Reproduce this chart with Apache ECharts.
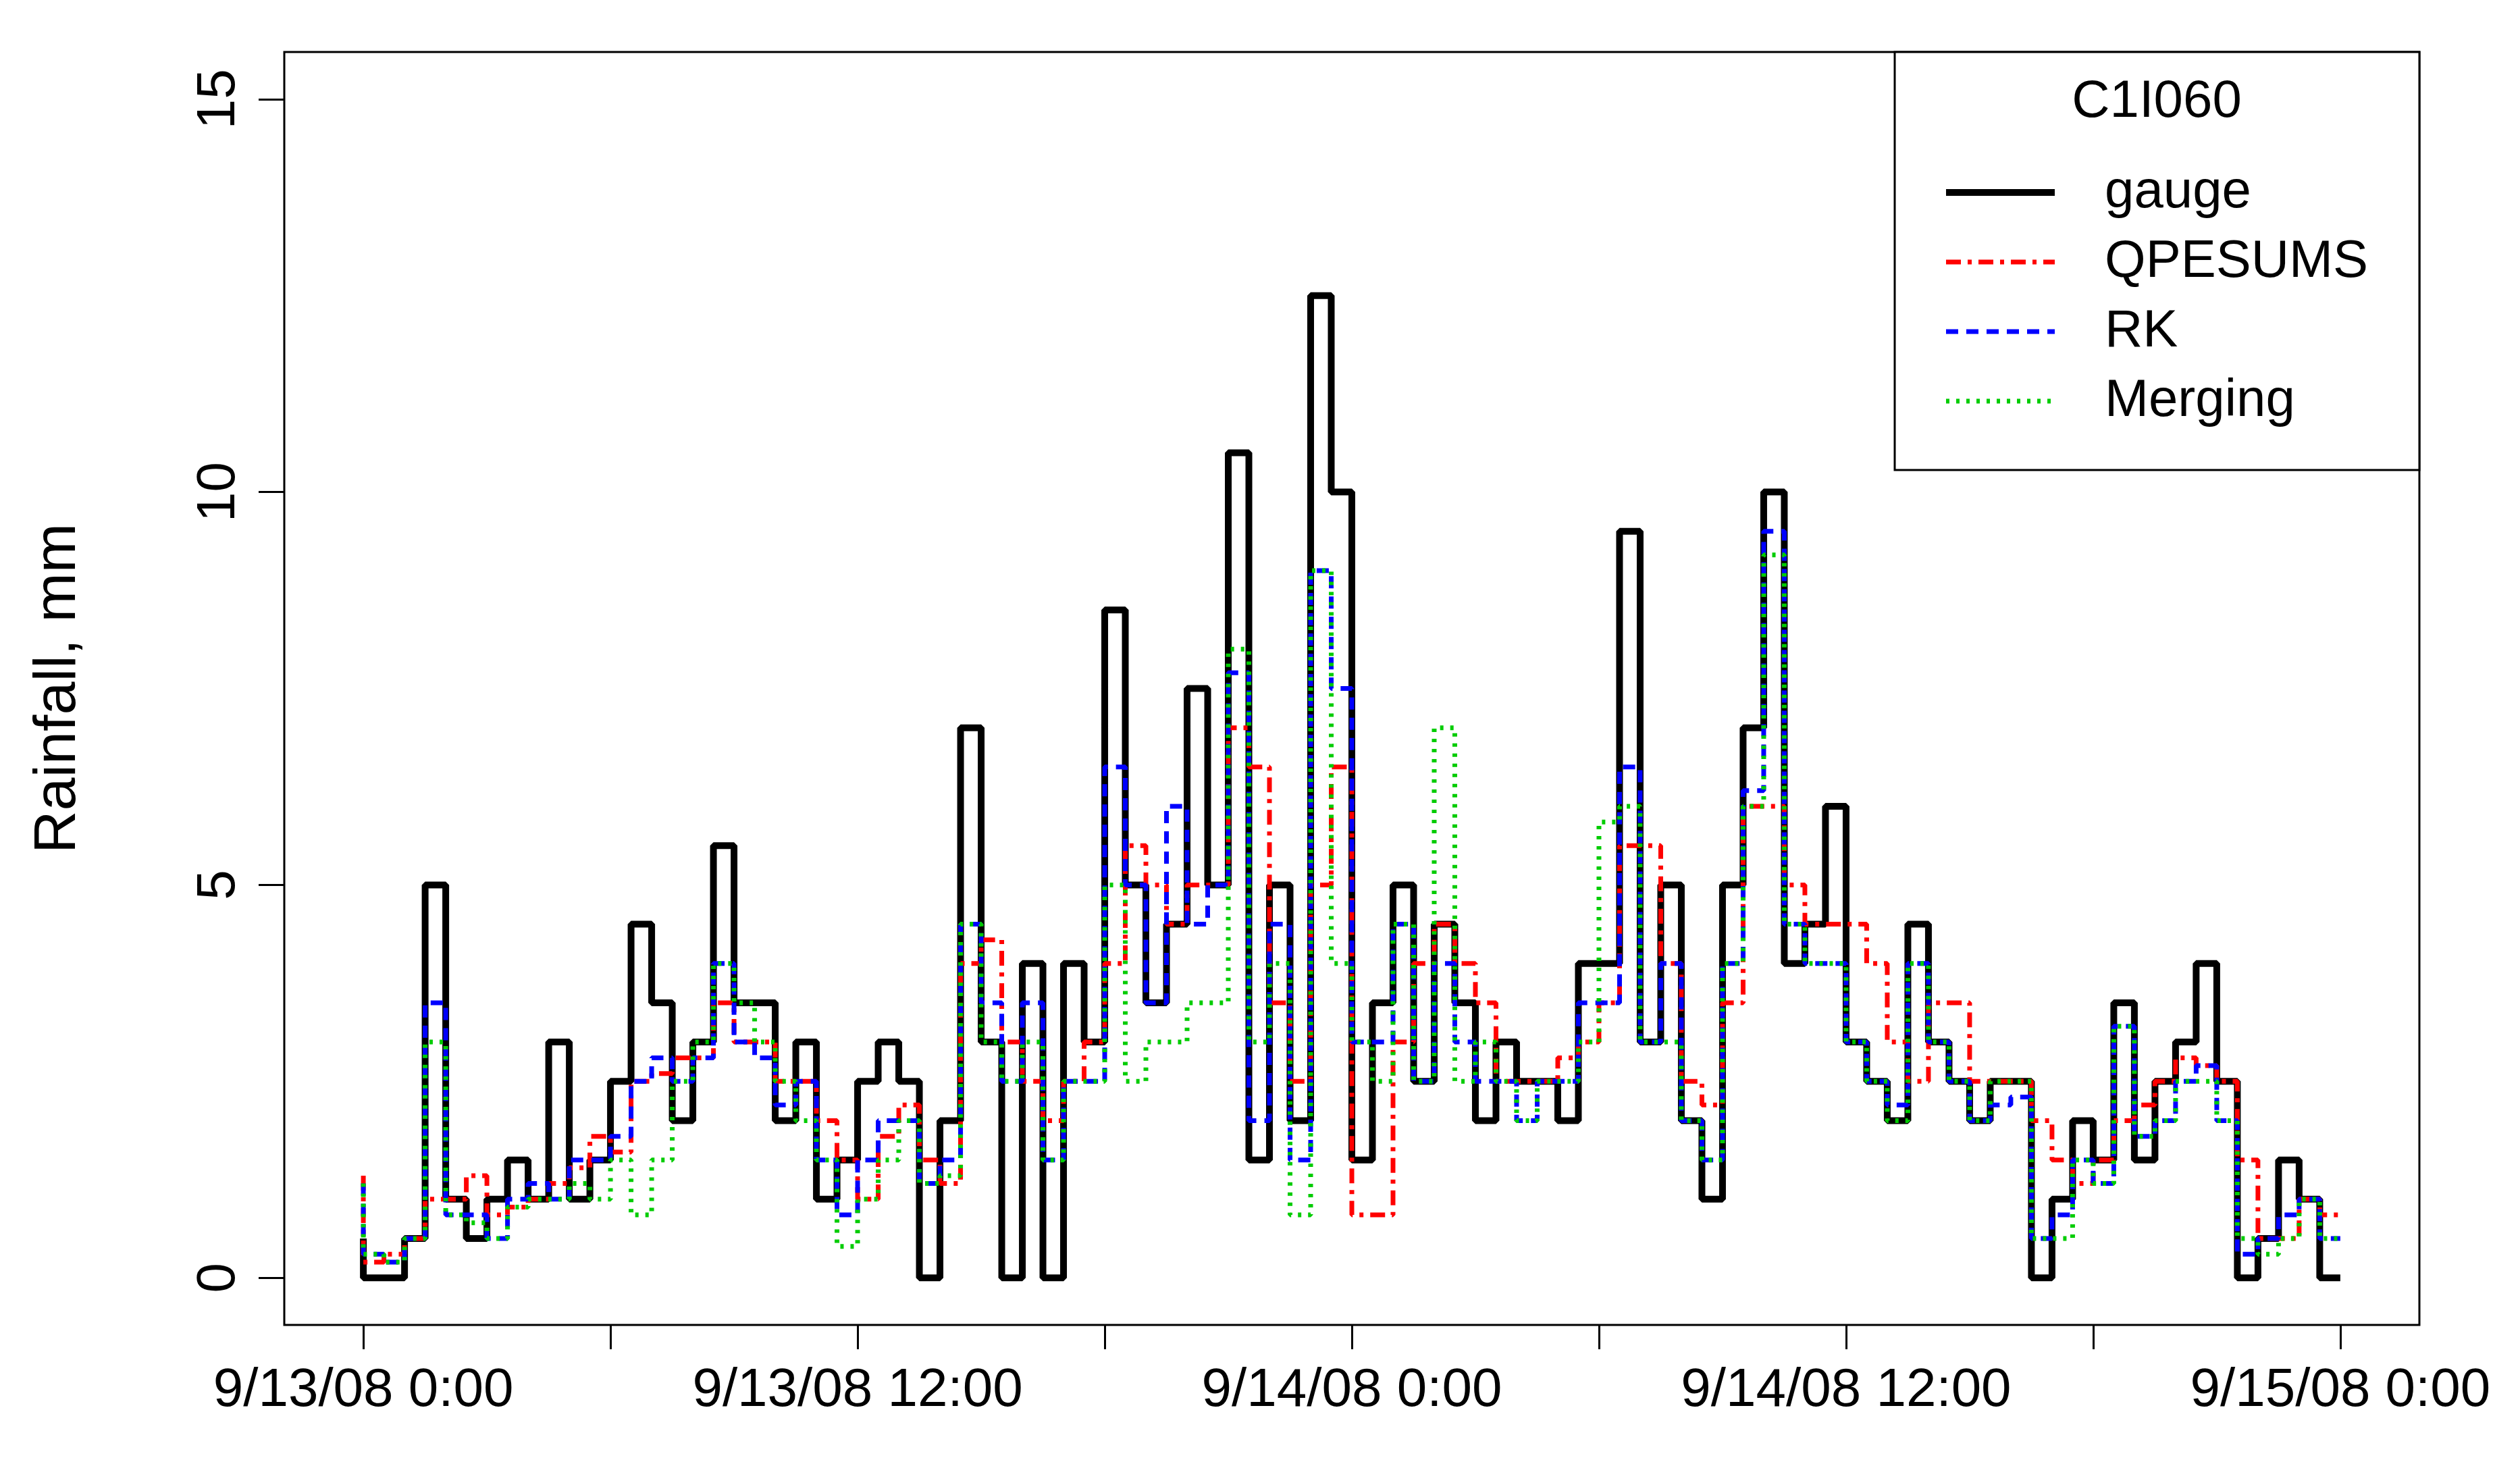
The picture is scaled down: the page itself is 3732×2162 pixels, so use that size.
<!DOCTYPE html>
<html><head><meta charset="utf-8">
<script src="https://cdn.jsdelivr.net/npm/echarts@6/dist/echarts.min.js"></script>
<style>html,body{margin:0;padding:0;background:#fff}#c{width:3732px;height:2162px}</style>
</head><body><div id="c"></div>
<script>
const stepHours = 0.5;
const gauge = [0.5,0,0,0.5,5,1,0.5,1,1.5,1, 3,1,1.5,2.5,4.5,3.5,2,3,5.5,3.5, 3.5,2,3,1,1.5,2.5,3,2.5,0,2, 7,3,0,4,0,4,3,8.5,5,3.5, 4.5,7.5,5,10.5,1.5,5,2,12.5,10,1.5, 3.5,5,2.5,4.5,3.5,2,3,2.5,2.5,2, 4,4,9.5,3,5,2,1,5,7,10, 4,4.5,6,3,2.5,2,4.5,3,2.5,2, 2.5,2.5,0,1,2,1.5,3.5,1.5,2.5,3, 4,2.5,0,0.5,1.5,1,0];
const qpesums = [1.3,0.2,0.3,0.5,1,1,1.3,0.8,0.9,1, 1.2,1.4,1.8,1.6,2.5,2.6,2.8,2.8,3.5,3, 3,2.5,2.5,2,1.5,1,1.8,2.2,1.5,1.2, 4,4.3,3,2.5,2,2.5,3,4,5.5,5, 4.5,5,5,7,6.5,3.5,2.5,5,6.5,0.8, 0.8,3,4,4.5,4,3.5,2.5,2.5,2.5,2.8, 3,3.5,5.5,5.5,4,2.5,2.2,3.5,6,6, 5,4.5,4.5,4.5,4,3,2.5,3.5,3.5,2.5, 2.5,2.5,2,1.5,1.2,1.5,2,2.2,2.5,2.8, 2.7,2.5,1.5,0.5,0.5,1,0.8];
const rk = [1.2,0.3,0.2,0.5,3.5,0.8,0.8,0.5,1,1.2, 1,1.5,1.5,1.8,2.5,2.8,2.5,2.8,4,3, 2.8,2.2,2.5,1.5,0.8,1.5,2,2,1.2,1.5, 4.5,3.5,2.5,3.5,1.5,2.5,2.5,6.5,5,3.5, 6,4.5,5,7.7,2,4.5,1.5,9,7.5,3, 3,4.5,2.5,4,3,2.5,2.5,2,2.5,2.5, 3.5,3.5,6.5,3,4,2,1.5,4,6.2,9.5, 4.5,4,4,3,2.5,2.2,4,3,2.5,2, 2.2,2.3,0.5,0.8,1.5,1.2,3.2,1.8,2,2.5, 2.7,2,0.3,0.5,0.8,1,0.5];
const merging = [1.2,0.3,0.2,0.5,3,0.8,0.7,0.5,0.9,1, 1,1.2,1,1.5,0.8,1.5,2.5,3,4,3.5, 3,2.5,2,1.5,0.4,1,1.5,2,1.2,1.3, 4.5,3,2.5,3,1.5,2.5,2.5,5,2.5,3, 3,3.5,3.5,8,3,4,0.8,9,4,3, 2.5,4.5,2.5,7,2.5,3,2.5,2,2.5,2.5, 3,5.8,6,3,3,2,1.5,4,6,9.2, 4.5,4,4,3,2.5,2,4,3,2.5,2, 2.5,2.5,0.5,0.5,1.5,1.2,3.2,1.8,2,2.5, 2.5,2,0.5,0.3,0.5,1,0.5];
const xTickValues = [0,6,12,18,24,30,36,42,48];
const xLabelValues = [0,12,24,36,48];
const xLabelTexts = {0:'9/13/08 0:00',12:'9/13/08 12:00',24:'9/14/08 0:00',36:'9/14/08 12:00',48:'9/15/08 0:00'};
const yTickValues = [0,5,10,15];
const legendTitle = 'C1I060';
const seriesNames = ['gauge','QPESUMS','RK','Merging'];

const toPairs = arr => arr.map((v,i)=>[i*stepHours, v]);
const font = 'Liberation Sans, Arial, sans-serif';
const styles = [
  {color:'#000000', width:10, type:'solid'},
  {color:'#ff0000', width:7, type:[22,10,6,10]},
  {color:'#0000ff', width:7, type:[18,12]},
  {color:'#00cc00', width:7, type:[5,10]}
];
const dataArr = [gauge,qpesums,rk,merging];
const chart = echarts.init(document.getElementById('c'));
const G = {l:421, r:3583, t:77, b:1962};
const legendGraphics = [
  {type:'rect', shape:{x:2806,y:77,width:777,height:619}, style:{fill:'#fff',stroke:'#000',lineWidth:3}, z:10},
  {type:'text', x:3194, y:151, style:{text:legendTitle, font:'78px '+font, fill:'#000', textAlign:'center', textVerticalAlign:'middle'}, z:11}
];
seriesNames.forEach((n,i)=>{
  const y = 285 + i*103;
  legendGraphics.push({type:'line', shape:{x1:2882,y1:y,x2:3043,y2:y}, style:{stroke:styles[i].color, lineWidth:styles[i].width, lineDash: styles[i].type==='solid'?null:styles[i].type}, z:11});
  legendGraphics.push({type:'text', x:3117, y:y, style:{text:n, font:'78px '+font, fill:'#000', textVerticalAlign:'middle'}, z:11});
});
chart.setOption({
  animation:false,
  backgroundColor:'#fff',
  grid:{left:G.l, right:3732-G.r, top:G.t, bottom:2162-G.b, show:true, borderColor:'#000', borderWidth:3},
  xAxis:{type:'value', min:-1.92, max:49.92, splitLine:{show:false},
    axisLine:{show:false, onZero:false},
    axisTick:{show:true, customValues:xTickValues, length:36, inside:false, lineStyle:{color:'#000',width:3}},
    axisLabel:{customValues:xLabelValues, formatter:v=>xLabelTexts[v]||'', fontSize:80, fontFamily:font, color:'#000', margin:58}},
  yAxis:{type:'value', min:-0.6, max:15.6, splitLine:{show:false},
    name:'Rainfall, mm', nameLocation:'middle', nameGap:290, nameTextStyle:{fontSize:88, fontFamily:font, color:'#000'},
    axisLine:{show:false, onZero:false},
    axisTick:{show:true, customValues:yTickValues, length:38, lineStyle:{color:'#000',width:3}},
    axisLabel:{customValues:yTickValues, rotate:90, fontSize:80, fontFamily:font, color:'#000', margin:56}},
  series: seriesNames.map((n,i)=>({name:n, type:'line', step:'start', symbol:'none', data:toPairs(dataArr[i]),
    lineStyle:{color:styles[i].color, width:styles[i].width, type:styles[i].type}, z:2+i})),
  graphic: legendGraphics
});
</script></body></html>
